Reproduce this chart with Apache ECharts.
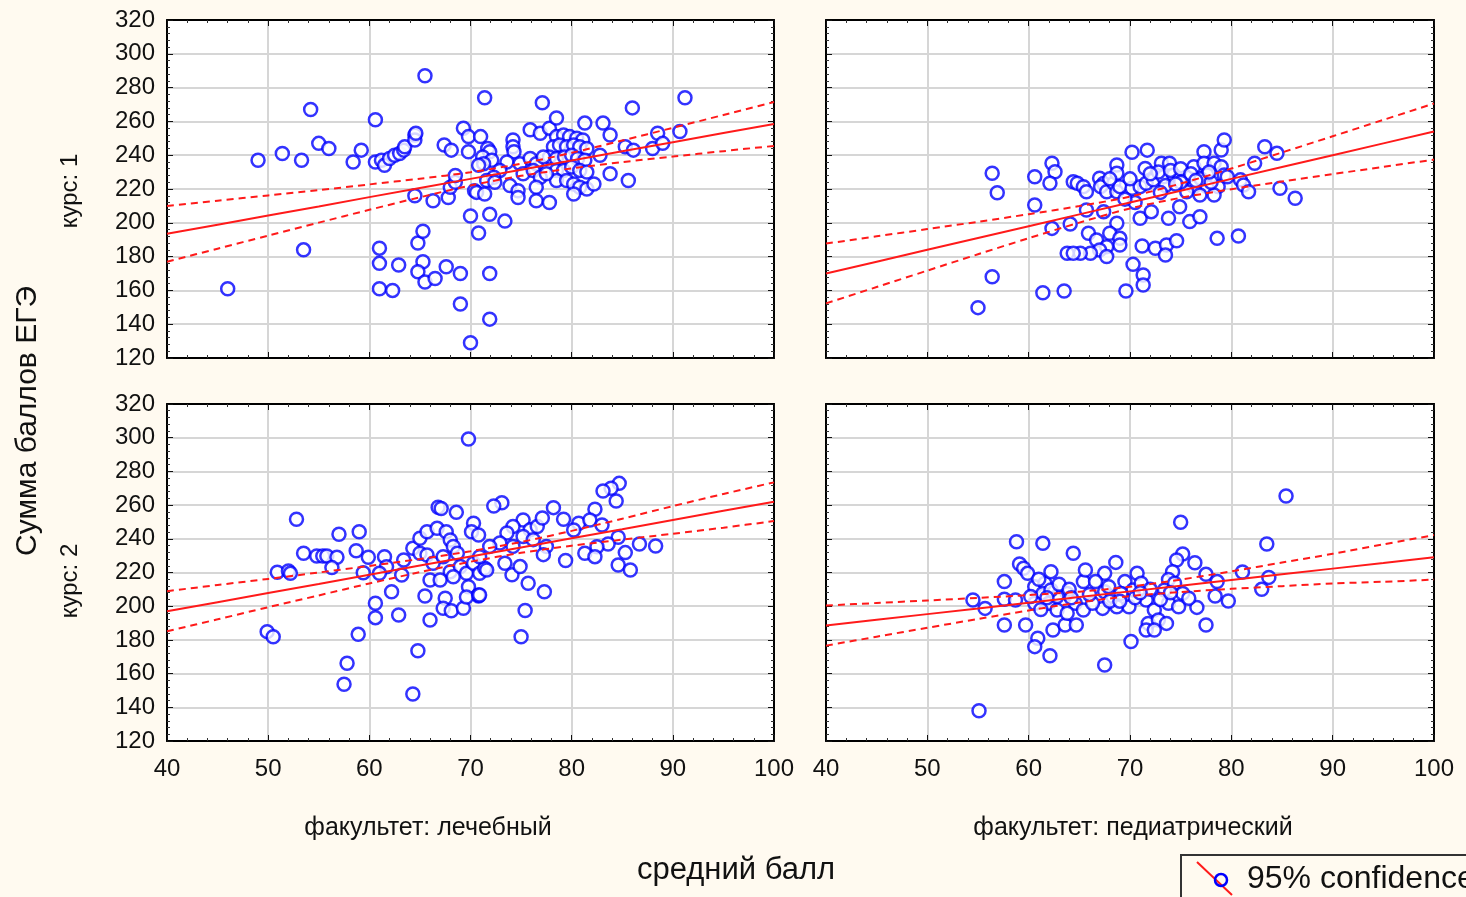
<!DOCTYPE html>
<html>
<head>
<meta charset="utf-8">
<script src="https://cdn.jsdelivr.net/npm/echarts@6/dist/echarts.min.js"></script>
<style>
  html, body { margin: 0; padding: 0; background: #fffaf0; }
  #chart { width: 1466px; height: 897px; }
</style>
</head>
<body>
<div id="chart"></div>
<script>
// ---- data ----
const xTicks = [40, 50, 60, 70, 80, 90, 100];
const yTicks = [120, 140, 160, 180, 200, 220, 240, 260, 280, 300, 320];
const rowLabels = ['курс: 1', 'курс: 2'];
const colLabels = ['факультет: лечебный', 'факультет: педиатрический'];

// курс 1, лечебный
const c1Med = [
  [46,161],[49,237],[51.4,241],[53.3,237],[54.2,267],[55,247],[56,244],[53.5,184],
  [58.4,236],[59.2,243],[60.6,261],[60.6,236],[61.2,237],[61.5,234],[62,238],[62.5,240],[63,241],[63.4,243],[63.5,245],[64.5,252],[64.5,249],[64.6,253],
  [65.5,287],[67.4,246],[68.1,243],[69.3,256],[69.8,251],[69.8,242],[64.5,216],[66.3,213],[67.8,215],[68,221],[68.5,224],[68.5,228],[70.4,219],[70,204],[70.8,194],
  [61,185],[61,176],[61,161],[62.3,160],[62.9,175],[64.8,188],[65.3,195],[65.3,177],[64.8,171],[65.5,165],[66.5,167],[67.6,174],[69,170],[69,152],[70,129],
  [71.4,274],[77.1,271],[86,268],[91.2,274],[71,251],[71.7,244],[71.9,242],[71.2,239],[72.1,237],[74.2,249],[74.2,245],[74.3,242],[75.9,255],[76.9,253],[77.8,256],[78.5,262],
  [81.3,259],[83.1,259],[83.8,252],[85.3,245],[86.1,243],[88,244],[88.5,253],[89,247],[90.7,254],[82.8,240],[83.8,229],[85.6,225],
  [78.5,251],[79.2,252],[79.8,251],[80.5,250],[81.1,249],[78.2,245],[78.8,246],[79.5,245],[80.2,246],[80.8,245],[81.5,244],[77.8,239],[78.5,238],[79.3,239],[80,240],[80.6,238],[81.3,237],
  [78.5,231],[79.2,231],[80,233],[80.8,231],[81.5,230],[78.5,225],[79.5,225],[80.2,223],[80.8,221],[81.5,220],[82.2,223],[80.2,217],
  [73.6,236],[74.9,235],[75.9,238],[76.5,235],[77.2,239],[75.2,229],[76.2,231],[76.9,227],[77.5,229],[73.9,222],[74.7,219],[74.7,215],[76.5,221],[76.5,213],[77.8,212],
  [72.9,231],[72.3,227],[71.3,235],[70.8,234],[71.6,225],[72.4,224],[70.6,218],[71.4,217],[71.9,205],[73.4,201],[71.9,170],[71.9,143]
];

// курс 1, педиатрический
const c1Ped = [
  [56.4,229.3],[56.9,217.8],[60.6,227.3],[62.3,235.2],[62.6,230.2],[62.1,223.4],[60.6,210.5],[64.4,224.3],[64.8,223.4],[65.4,221.4],[65.7,218.4],
  [67,226.4],[67.4,223.3],[67.1,221.4],[67.7,218.4],[68.4,223.4],[68.7,234.2],[68.7,229.3],[68.7,218.4],[69,221.4],[70.2,241.7],[71.7,243],
  [70.2,220.4],[71,221.4],[71.5,232.2],[71.6,223.4],[72.3,225.4],[73.1,235.2],[73.9,235.2],[73.3,227.3],[74.3,228.3],[74.9,226.3],[75.6,227.3],[76.3,233.2],
  [77.3,242.1],[77.3,235.2],[77.6,228.3],[78.3,235.2],[79,243.1],[79.3,249],[79,233.2],[79.3,228.3],[78.7,221.4],[77.6,221.4],[76.3,221.4],[75.6,218.4],[76.9,216.4],[78.3,216.4],[79.6,227.3],
  [83.3,245],[84.5,241.1],[82.3,235.2],[80.9,225.4],[81.2,222.4],[81.7,218.4],[84.8,220.4],[86.3,214.5],
  [65.7,207.6],[67.4,206.6],[68.7,199.7],[71,202.7],[72.1,206.6],[73.8,202.7],[74.9,209.5],[75.9,200.7],[76.9,203.6],[62.3,196.7],[64.1,199.3],
  [65.9,193.8],[66.7,189.8],[68,193.8],[69,190.8],[69,186.9],[67.7,185.9],[67,183.9],[66.1,182],[65.1,182],[63.8,182],[64.4,182],[67.7,180],
  [71.2,186.3],[72.5,184.9],[73.6,186.9],[74.6,189.4],[73.5,180.9],[78.6,190.8],[80.7,192.2],
  [70.3,175.4],[71.3,169.1],[71.3,163.2],[69.6,159.6],[61.4,158.6],[63.5,159.6],[56.4,168.1],[55,149.8],
  [72.8,230],[74,231],[75,232],[76,229],[77,226],[78,224],[73.5,222],[75,224],[70.5,212],[69.5,214],
  [72,229],[74.5,223],[76.5,225],[77.8,230],[73,218],[70,226],[68,226]
];

// курс 2, лечебный
const c2Med = [
  [69.8,299.2],[52.8,251.6],[53.5,231.4],[54.8,229.8],[55.4,229.8],[55.8,229.8],[56.8,229],[56.3,222.9],[57,242.7],[59,244.2],[58.7,232.9],[59.9,229],[59.4,219.9],
  [50.9,220.1],[52,220.9],[52.2,219.5],[49.9,184.9],[50.5,181.9],[58.9,183.3],[57.8,166.1],[57.5,153.7],[64.3,147.9],[64.8,173.6],[60.6,201.7],[60.6,193.2],
  [62.2,208.6],[62.9,194.8],[66,191.8],[65.5,206.1],[67.5,204.7],[67.3,198.8],[68.1,197.3],[69.3,198.8],[70.8,206.1],
  [61.5,229.4],[61.7,223.4],[61,219.5],[63.4,227.4],[63.2,218.5],[64.3,234.4],[65,240.3],[65.7,244.2],[66.7,246.2],[67.6,244.2],[68,239.3],
  [66.8,258.7],[67.1,258],[68.6,255.7],[70.3,249.2],[70.1,244.2],[70.8,242.3],
  [65,231.4],[65.7,230.4],[66.3,225.5],[67.3,229.4],[68.3,235.4],[68.7,231.4],[68,220.5],[69,223.5],[69.6,219.5],[70.3,225.5],[70.9,219.5],[71.4,222.5],
  [66,215.5],[67,215.5],[68.3,217.5],[69.8,211.5],[69.6,205.5],[70.8,206.6],
  [84.7,272.9],[83.9,270],[83.1,268.4],[84.4,262.4],[82.3,257.5],[78.2,258.5],[73.1,261.4],[72.3,259.5],[79.2,251.6],[80.7,249.2],[81.8,251.2],[83,248.2],[80.2,245.2],
  [84.6,240.9],[86.7,236.9],[88.3,235.7],[83.6,236.9],[82.5,235.3],[85.3,231.8],[84.6,224.4],[85.8,221.5],[81.3,231.4],[82.3,229.4],[79.4,227.1],
  [75.2,251.2],[74.2,247.3],[73.6,243.4],[75.9,245.4],[76.6,247.3],[77.1,252.3],[75.2,241.4],[76.2,239.5],[77.5,235.5],[77.2,230.6],[74.2,235.5],[72.9,237.5],
  [71.9,235.5],[70.9,229.4],[71.6,221.5],[73.4,225.5],[74.1,218.6],[74.9,223.5],[75.7,213.6],[77.3,208.6],[75.4,197.4],[75,181.9],[70.9,206.6]
];

// курс 2, педиатрический
const c2Ped = [
  [85.4,265.4],[75,249.8],[83.5,236.9],[58.8,238.3],[61.4,237.3],[64.4,231.4],[68.6,226],[67.5,219.5],[70.7,219.5],[75.2,231],[74.6,227.4],[74.2,220.5],[73.8,215.9],
  [76.4,225.8],[77.5,218.9],[78.6,214.6],[81.1,220.3],[83.7,217.1],[83,210],[78.4,206],[79.7,203.1],[76.6,199.3],[77.5,188.8],[57.6,214.6],[59.1,225],[59.5,222.5],[59.9,219.5],
  [54.5,203.7],[55.7,198.7],[57.6,204.1],[58.7,203.7],[57.6,188.8],[59.7,188.8],[60.9,181],[60.6,176],[62.1,170.6],[62.4,185.9],[63.6,188.8],[64.7,188.8],[67.5,165.1],[70.1,179],[55.1,138],
  [60.6,211.6],[61.6,213.6],[62.2,220.5],[61.4,207.6],[62,201.7],[62.8,197.7],[63.8,207.6],[64.6,201.7],[65.4,214.6],[65.6,221.5],[65.4,197.7],[66.6,214.6],[67.5,208.6],[67.3,198.7],
  [68.3,205.7],[68.7,199.7],[69.5,214.6],[69.9,199.7],[70.3,209.6],[71.1,213.6],[71.6,203.7],[71.8,189.8],[72.4,197.7],[72.8,191.8],[73.4,209.6],[73.8,201.7],[74.4,213.6],[74.8,199.7],
  [75.2,207.6],[75.8,204.7],[71.6,185.9],[72.4,185.9],[73.6,189.8],[67.9,211.6],[69.1,207.6],[60.6,201.7],[60.2,205.7],[62.8,205.7],[63.8,195.8],[66.3,201.7],[62.2,209.6],
  [61,216],[61.8,205],[63,213],[64,210],[66,207],[68,203],[70.5,205],[72,210],[73,204],[74,208],[61.2,198],[64.2,205],[69,203],[71,208]
];

// regression line and 95% band, read at these x values
const fitX = [40, 45, 50, 55, 60, 65, 70, 75, 80, 85, 90, 95, 100];
const c1MedFit = [193.5, 198.9, 204.3, 209.7, 215.2, 220.6, 226, 231.4, 236.8, 242.3, 247.7, 253.1, 258.5];
const c1MedUp  = [210, 213.1, 216.2, 219.3, 222.7, 226.1, 229.9, 235, 241.4, 248.7, 256.2, 263.8, 271.5];
const c1MedLo  = [177, 184.7, 192.4, 200.1, 207.7, 215.1, 222.1, 227.8, 232.2, 235.9, 239.2, 242.4, 245.5];
const c1PedFit = [170, 177, 184, 191, 198, 205, 212, 219, 226, 233, 240, 247, 254];
const c1PedUp  = [187.7, 192, 196.3, 200.6, 205.1, 209.9, 215.5, 223.2, 232.1, 241.6, 251.2, 260.9, 270.6];
const c1PedLo  = [152.3, 162, 171.7, 181.4, 190.9, 200.1, 208.5, 214.8, 219.9, 224.4, 228.8, 233.1, 237.4];
const c2MedFit = [197, 202.4, 207.8, 213.2, 218.7, 224.1, 229.5, 234.9, 240.3, 245.7, 251.2, 256.6, 262];
const c2MedUp  = [208.9, 212.6, 216.2, 220, 223.9, 228, 232.6, 238.1, 244.7, 251.9, 259.4, 266.6, 273.5];
const c2MedLo  = [185.1, 192.2, 199.4, 206.4, 213.5, 220.2, 226.4, 231.7, 235.9, 239.5, 243, 246.6, 250.5];
const c2PedFit = [188.5, 191.9, 195.3, 198.6, 202, 205.4, 208.8, 212.1, 215.5, 218.9, 222.3, 225.6, 229];
const c2PedUp  = [200.4, 201.9, 203.4, 204.9, 206.6, 208.6, 211.6, 215.8, 220.7, 225.9, 231.1, 236.7, 242.2];
const c2PedLo  = [176.6, 181.9, 187.2, 192.4, 197.5, 202.2, 206, 208.4, 210.3, 211.9, 213.5, 214.5, 215.8];

// ---- layout ----
const panels = [
  { left: 167, top: 20,  width: 607, height: 338, pts: c1Med, fit: c1MedFit, up: c1MedUp, lo: c1MedLo, xl: false, yl: true },
  { left: 826, top: 20,  width: 608, height: 338, pts: c1Ped, fit: c1PedFit, up: c1PedUp, lo: c1PedLo, xl: false, yl: false },
  { left: 167, top: 404, width: 607, height: 337, pts: c2Med, fit: c2MedFit, up: c2MedUp, lo: c2MedLo, xl: true, yl: true },
  { left: 826, top: 404, width: 608, height: 337, pts: c2Ped, fit: c2PedFit, up: c2PedUp, lo: c2PedLo, xl: true, yl: false }
];

const FONT = '"Liberation Sans", Arial, sans-serif';
const RED = '#ff1a1a';

const grid = [], xAxis = [], yAxis = [], series = [];

function axisCommon(show, labelShow, pos) {
  return {
    axisLine: { show: true, lineStyle: { color: '#000', width: 2 } },
    axisTick: { show: true, inside: true, length: 6, lineStyle: { color: '#111', width: 1 } },
    minorTick: { show: true, splitNumber: 5, length: 3, lineStyle: { color: '#333', width: 1 } },
    axisLabel: { show: labelShow, color: '#111', fontSize: 24, fontFamily: FONT, margin: pos === 'x' ? 16 : 12 },
    splitLine: { show: show, lineStyle: { color: '#d6d6d6', width: 2 } }
  };
}

panels.forEach((p, i) => {
  grid.push({ left: p.left, top: p.top, width: p.width, height: p.height, show: true,
    backgroundColor: '#ffffff', borderWidth: 0 });
  const xBase = { type: 'value', gridIndex: i, min: xTicks[0], max: xTicks[xTicks.length - 1], interval: 10 };
  const yBase = { type: 'value', gridIndex: i, min: yTicks[0], max: yTicks[yTicks.length - 1], interval: 20 };
  xAxis.push(Object.assign({}, xBase, { position: 'bottom' }, axisCommon(true, p.xl, 'x')));
  xAxis.push(Object.assign({}, xBase, { position: 'top' }, axisCommon(false, false, 'x')));
  yAxis.push(Object.assign({}, yBase, { position: 'left' }, axisCommon(true, p.yl, 'y')));
  yAxis.push(Object.assign({}, yBase, { position: 'right' }, axisCommon(false, false, 'y')));

  const ax = { xAxisIndex: 2 * i, yAxisIndex: 2 * i };
  series.push(Object.assign({
    type: 'scatter', data: p.pts, symbol: 'circle', symbolSize: 13, z: 2,
    itemStyle: { color: '#ffffff', borderColor: '#0000ff', borderWidth: 2.5 }, silent: true
  }, ax));
  const mk = arr => fitX.map((x, k) => [x, arr[k]]);
  series.push(Object.assign({
    type: 'line', data: mk(p.fit), showSymbol: false, z: 5, silent: true,
    lineStyle: { color: RED, width: 2 }
  }, ax));
  [p.up, p.lo].forEach(b => series.push(Object.assign({
    type: 'line', data: mk(b), showSymbol: false, smooth: 0.3, z: 5, silent: true,
    lineStyle: { color: RED, width: 2, type: [7, 5] }
  }, ax)));
});

const txt = (x, y, s, size, rot) => ({
  type: 'text', x: x, y: y, rotation: rot || 0, z: 10,
  style: { text: s, fill: '#111', font: size + 'px ' + FONT, textAlign: 'center', textVerticalAlign: 'middle' }
});

const graphic = [
  txt(70, 191, rowLabels[0], 24, Math.PI / 2),
  txt(70, 581, rowLabels[1], 24, Math.PI / 2),
  txt(28, 421, 'Сумма баллов ЕГЭ', 30, Math.PI / 2),
  txt(428, 828, colLabels[0], 25),
  txt(1133, 828, colLabels[1], 25),
  txt(736, 870, 'средний балл', 31),
  { type: 'rect', shape: { x: 1181, y: 855, width: 320, height: 60 }, z: 10,
    style: { fill: 'none', stroke: '#333', lineWidth: 2 } },
  { type: 'line', shape: { x1: 1197, y1: 862, x2: 1232, y2: 895 }, z: 10,
    style: { stroke: RED, lineWidth: 2 } },
  { type: 'circle', shape: { cx: 1221, cy: 880, r: 6 }, z: 11,
    style: { fill: 'none', stroke: '#0000ff', lineWidth: 2.5 } },
  { type: 'text', x: 1247, y: 879, z: 10,
    style: { text: '95% confidence', fill: '#111', font: '32px ' + FONT, textAlign: 'left', textVerticalAlign: 'middle' } }
];

const chart = echarts.init(document.getElementById('chart'));
chart.setOption({
  backgroundColor: '#fffaf0',
  animation: false,
  grid: grid,
  xAxis: xAxis,
  yAxis: yAxis,
  series: series,
  graphic: graphic
});
</script>
</body>
</html>
